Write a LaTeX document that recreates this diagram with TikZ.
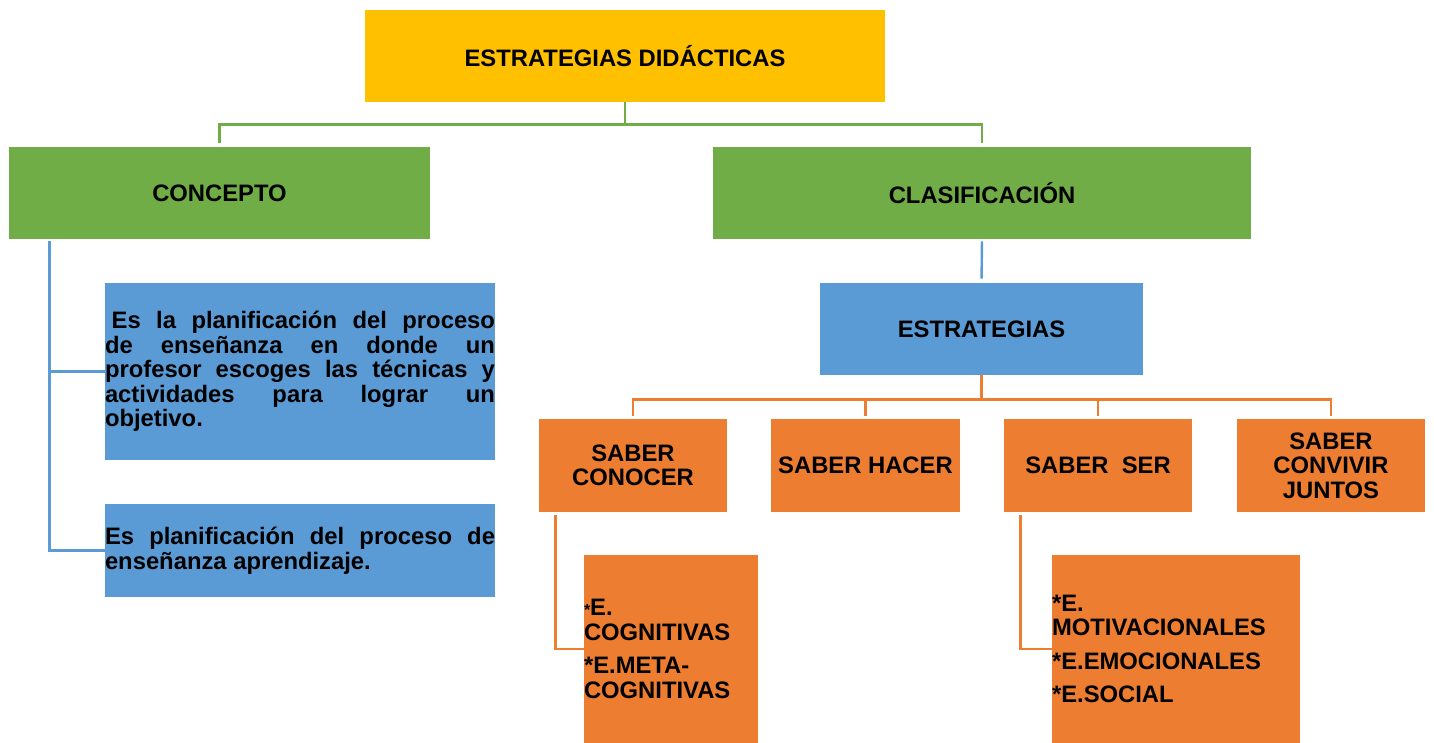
\documentclass[tikz,border=0pt]{standalone}
\usepackage{fontspec}
\setmainfont{Liberation Sans}
\definecolor{oro}{HTML}{FFC000}
\definecolor{verde}{HTML}{70AD47}
\definecolor{azul}{HTML}{5B9BD5}
\definecolor{naranja}{HTML}{ED7D31}
\begin{document}
\begin{tikzpicture}[x=0.5pt, y=-0.5pt,
  caja/.style={rectangle, inner sep=0pt, align=center,
    font=\fontsize{11.9}{12.3}\selectfont\bfseries},
  saber/.style={caja, fill=naranja, minimum width=94pt, minimum height=46.5pt},
  lista/.style={caja, fill=naranja, align=left, minimum height=94pt},
  lverde/.style={draw=verde, line width=1.2pt},
  lazul/.style={draw=azul, line width=1.2pt},
  lnaranja/.style={draw=naranja, line width=1.2pt}]

\useasboundingbox (0,0) rectangle (1434,743);

% nivel 1 y 2
\node[caja, fill=oro, minimum width=260pt, minimum height=46pt] (titulo) at (625,56) {ESTRATEGIAS DIDÁCTICAS};
\node[caja, fill=verde, minimum width=210.5pt, minimum height=46pt] (concepto) at (219.5,193) {CONCEPTO};
\node[caja, fill=verde, minimum width=269pt, minimum height=46pt] (clasif) at (982,193) {CLASIFICACIÓN};

% concepto
\node[caja, fill=azul, align=justify, text width=195pt, minimum height=88.5pt] (def1) at (300,371.5)
  {\hspace*{0.28em}Es la planificación del proceso\linebreak de enseñanza en donde un\linebreak profesor escoges las técnicas y\linebreak actividades para lograr un\linebreak objetivo.};
\node[caja, fill=azul, align=justify, text width=195pt, minimum height=46.5pt] (def2) at (300,550.5)
  {Es planificación del proceso de\linebreak enseñanza aprendizaje.};

% clasificacion
\node[caja, fill=azul, minimum width=161.5pt, minimum height=46pt] (estr) at (981.5,329) {ESTRATEGIAS};
\node[saber] (conocer) at (633,465.5) {SABER\\CONOCER};
\node[saber, minimum width=94.5pt] (hacer) at (865.5,465.5) {SABER HACER};
\node[saber] (ser) at (1098,465.5) {SABER\ \ SER};
\node[saber] (convivir) at (1331,465.5) {SABER\\CONVIVIR\\JUNTOS};

\node[lista, text width=87pt] (cogn) at (671,649)
  {{\footnotesize *}E.\\COGNITIVAS\\[4.5pt]*E.META-\\COGNITIVAS};
\node[lista, text width=124pt] (motiv) at (1176,649)
  {*E.\\MOTIVACIONALES\\[4.5pt]*E.EMOCIONALES\\[4.5pt]*E.SOCIAL};

% conectores
\draw[lverde, shorten >=2pt] (titulo.south) -- ++(0,22) -| (concepto.north);
\draw[lverde, shorten >=2pt] (titulo.south) -- ++(0,22) -| (clasif.north);

\draw[lazul, shorten <=1pt] ([xshift=20.5pt]concepto.south west) |- (def1.west);
\draw[lazul, shorten <=1pt] ([xshift=20.5pt]concepto.south west) |- (def2.west);
\draw[lazul, shorten <=1pt, shorten >=2pt] (clasif.south) -- (estr.north);

\draw[lnaranja, shorten >=1.5pt] (estr.south) -- ++(0,24) -| (conocer.north);
\draw[lnaranja, shorten >=1.5pt] (estr.south) -- ++(0,24) -| (hacer.north);
\draw[lnaranja, shorten >=1.5pt] (estr.south) -- ++(0,24) -| (ser.north);
\draw[lnaranja, shorten >=1.5pt] (estr.south) -- ++(0,24) -| (convivir.north);

\draw[lnaranja, shorten <=1.5pt] ([xshift=8.5pt]conocer.south west) |- (cogn.west);
\draw[lnaranja, shorten <=1.5pt] ([xshift=8.5pt]ser.south west) |- (motiv.west);

\end{tikzpicture}
\end{document}
